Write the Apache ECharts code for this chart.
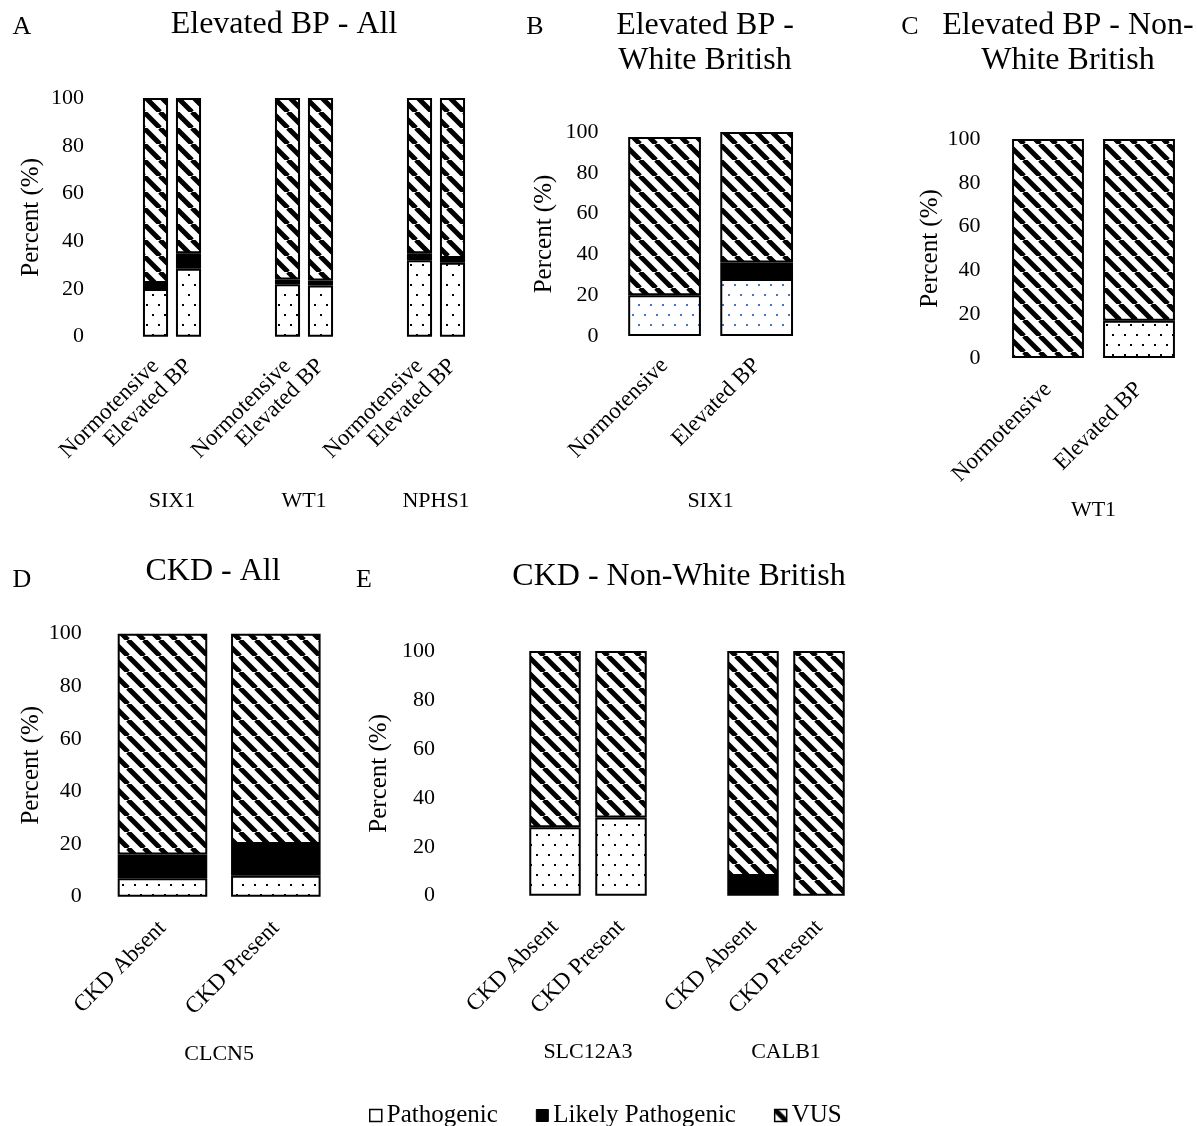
<!DOCTYPE html>
<html><head><meta charset="utf-8">
<script src="https://cdn.jsdelivr.net/npm/echarts@6/dist/echarts.min.js"></script>
<style>html,body{margin:0;padding:0;background:#fff}#c{width:1197px;height:1126px}</style>
</head><body><div id="c"></div>
<script>
// ---------- data ----------
const seriesNames = ['Pathogenic', 'Likely Pathogenic', 'VUS'];
const yTicks = [0, 20, 40, 60, 80, 100];

// Panel A: Elevated BP - All
const aGenes = ['SIX1', 'WT1', 'NPHS1'];
const aGroups = ['Normotensive', 'Elevated BP'];
const aPath = [20, 28.5, 22, 21.5, 32, 31];
const aLikely = [2.5, 6.5, 2, 2, 3, 2];
const aVus = [77.5, 65, 76, 76.5, 65, 67];

// Panel B: Elevated BP - White British
const bGenes = ['SIX1'];
const bGroups = ['Normotensive', 'Elevated BP'];
const bPath = [20, 28];
const bLikely = [0, 8];
const bVus = [77.5, 64];

// Panel C: Elevated BP - Non-White British
const cGenes = ['WT1'];
const cGroups = ['Normotensive', 'Elevated BP'];
const cPath = [0, 17];
const cLikely = [0, 0];
const cVus = [100, 83];

// Panel D: CKD - All
const dGenes = ['CLCN5'];
const dGroups = ['CKD Absent', 'CKD Present'];
const dPath = [7, 8];
const dLikely = [9, 12];
const dVus = [84, 80];

// Panel E: CKD - Non-White British
const eGenes = ['SLC12A3', 'CALB1'];
const eGroups = ['CKD Absent', 'CKD Present'];
const ePath = [28, 32, 0, 0];
const eLikely = [0, 0, 8, 0];
const eVus = [72, 68, 92, 100];

// ---------- patterns ----------
const FONT = 'Liberation Serif, Times New Roman, serif';
function stripePattern() {
  const s = 16, c = document.createElement('canvas');
  c.width = s; c.height = s;
  const g = c.getContext('2d');
  g.fillStyle = '#fff'; g.fillRect(0, 0, s, s);
  g.strokeStyle = '#000'; g.lineWidth = 5;
  g.beginPath();
  for (let k = -1; k <= 1; k++) { g.moveTo(k * s, 0); g.lineTo(k * s + s, s); }
  g.stroke();
  return { image: c, repeat: 'repeat' };
}
function dotPattern(col) {
  const c = document.createElement('canvas');
  c.width = 12; c.height = 20;
  const g = c.getContext('2d');
  g.fillStyle = '#fff'; g.fillRect(0, 0, 12, 20);
  g.fillStyle = col;
  g.fillRect(2, 4, 2, 2);
  g.fillRect(8, 14, 2, 2);
  return { image: c, repeat: 'repeat' };
}
const STRIPE = stripePattern();
const DOTS = dotPattern('#000');
const BLUEDOTS = dotPattern('#4472C4');

const panels = [
  { genes: aGenes, groups: aGroups, vals: [aPath, aLikely, aVus], gaps: 2,
    grid: { left: 139, top: 98, width: 330, height: 238.7 }, labelMargin: 55, nameGap: 95, geneOffset: 146, catMargin: 26, barGap: '24%', dots: DOTS },
  { genes: bGenes, groups: bGroups, vals: [bPath, bLikely, bVus], gaps: 0,
    grid: { left: 618.5, top: 132, width: 184.2, height: 204 }, labelMargin: 20, nameGap: 62, geneOffset: 146, catMargin: 26, barGap: '21%', dots: BLUEDOTS },
  { genes: cGenes, groups: cGroups, vals: [cPath, cLikely, cVus], gaps: 0,
    grid: { left: 1002.5, top: 139, width: 182, height: 219 }, labelMargin: 22, nameGap: 60, geneOffset: 133, catMargin: 28, barGap: '21%', dots: DOTS },
  { genes: dGenes, groups: dGroups, vals: [dPath, dLikely, dVus], gaps: 0,
    grid: { left: 105.8, top: 633.7, width: 226.7, height: 263 }, labelMargin: 24, nameGap: 62, geneOffset: 139, catMargin: 28, barGap: '21%', dots: DOTS },
  { genes: eGenes, groups: eGroups, vals: [ePath, eLikely, eVus], gaps: 1,
    grid: { left: 522, top: 651, width: 330, height: 244.7 }, labelMargin: 87, nameGap: 130, geneOffset: 138, catMargin: 28, barGap: '22%', dots: DOTS }
];

const grids = [], xAxes = [], yAxes = [], series = [];
panels.forEach((p, idx) => {
  grids.push(p.grid);
  const cats = [];
  const cols = [[], [], []];
  const geneStarts = [];
  p.genes.forEach((gene, gi) => {
    geneStarts.push(cats.length);
    p.groups.forEach((grp, k) => {
      const d = gi * p.groups.length + k;
      cats.push(grp);
      for (let s = 0; s < 3; s++) {
        const v = p.vals[s][d];
        cols[s].push(v === 0 ? '-' : v);
      }
    });
    if (gi < p.genes.length - 1) {
      for (let g = 0; g < p.gaps; g++) { cats.push(''); cols.forEach(c => c.push('-')); }
    }
  });
  const geneAxis = new Array(cats.length + 1).fill('');
  p.genes.forEach((gene, gi) => { geneAxis[geneStarts[gi] + p.groups.length / 2] = gene; });

  xAxes.push({
    gridIndex: idx, type: 'category', data: cats,
    axisLine: { show: false }, axisTick: { show: false },
    axisLabel: { interval: 0, rotate: 45, margin: p.catMargin, fontSize: 23, fontFamily: FONT, color: '#000' }
  });
  xAxes.push({
    gridIndex: idx, type: 'category', data: geneAxis, boundaryGap: false, position: 'bottom', offset: p.geneOffset,
    axisLine: { show: false }, axisTick: { show: false },
    axisLabel: { interval: 0, fontSize: 22, fontFamily: FONT, color: '#000' }
  });
  yAxes.push({
    gridIndex: idx, type: 'value', min: yTicks[0], max: yTicks[yTicks.length - 1], interval: yTicks[1] - yTicks[0],
    axisLine: { show: false }, axisTick: { show: false }, splitLine: { show: false },
    axisLabel: { margin: p.labelMargin, fontSize: 22, fontFamily: FONT, color: '#000' },
    name: 'Percent (%)', nameLocation: 'middle', nameGap: p.nameGap,
    nameTextStyle: { fontSize: 25, fontFamily: FONT, color: '#000' }
  });
  const fills = [p.dots, '#000', STRIPE];
  seriesNames.forEach((nm, s) => {
    series.push({
      type: 'bar', name: nm, stack: 'st' + idx,
      xAxisIndex: idx * 2, yAxisIndex: idx,
      barCategoryGap: p.barGap,
      data: cols[s],
      itemStyle: { color: fills[s], borderColor: '#000', borderWidth: 2 }
    });
  });
});

function txt(x, y, text, size, lh) {
  return { type: 'text', x: x, y: y, silent: true,
    style: { text: text, fill: '#000', font: size + 'px ' + FONT, textAlign: 'center', textVerticalAlign: 'middle', lineHeight: lh || size } };
}

const option = {
  animation: false,
  backgroundColor: '#fff',
  grid: grids, xAxis: xAxes, yAxis: yAxes, series: series,
  legend: {
    left: 364, top: 1098, itemWidth: 12, itemHeight: 12, itemGap: 38, selectedMode: false,
    icon: 'rect',
    textStyle: { fontSize: 25, fontFamily: FONT, color: '#000' },
    data: [
      { name: 'Pathogenic', itemStyle: { color: '#fff', borderColor: '#000', borderWidth: 1.5 } },
      { name: 'Likely Pathogenic', itemStyle: { color: '#000', borderColor: '#000', borderWidth: 1 } },
      { name: 'VUS', itemStyle: { color: STRIPE, borderColor: '#000', borderWidth: 1.5 } }
    ]
  },
  graphic: [
    txt(22, 27, 'A', 26), txt(284, 25, 'Elevated BP - All', 32),
    txt(535, 27, 'B', 26), txt(705, 43, 'Elevated BP -\nWhite British', 32, 35),
    txt(910, 27, 'C', 26), txt(1068, 43, 'Elevated BP - Non-\nWhite British', 32, 35),
    txt(22, 580, 'D', 26), txt(213, 572, 'CKD - All', 32),
    txt(364, 580, 'E', 26), txt(679, 577, 'CKD - Non-White British', 32)
  ]
};
echarts.init(document.getElementById('c')).setOption(option);
</script>
</body></html>
